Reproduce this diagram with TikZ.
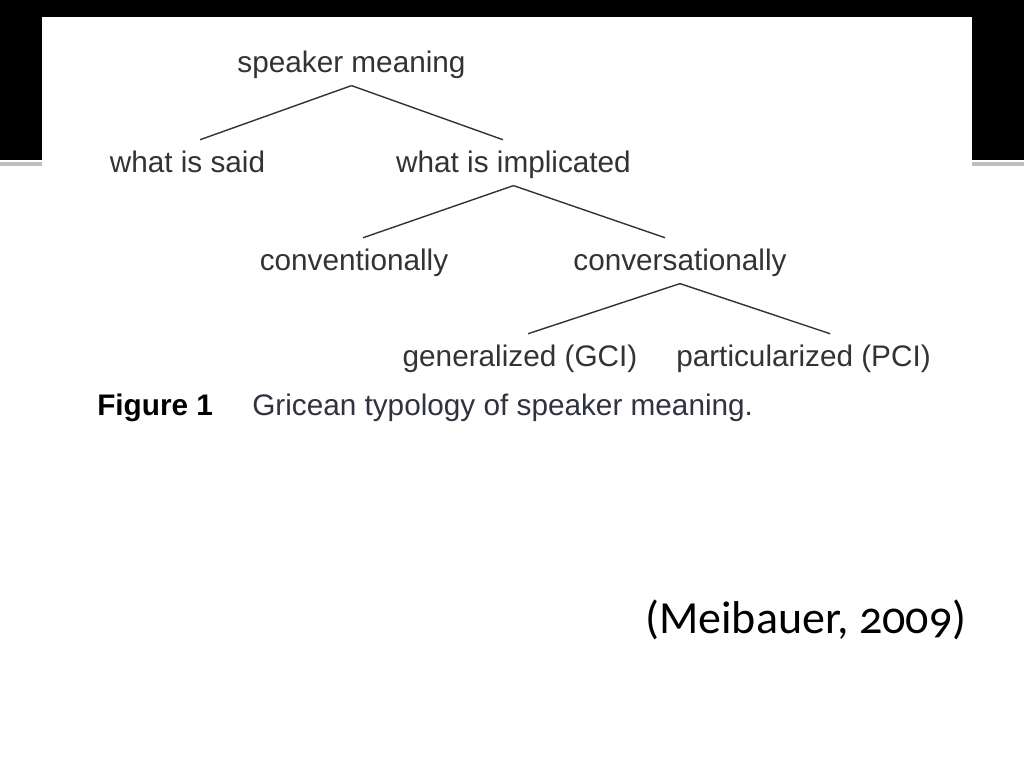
\documentclass[tikz,border=0pt]{standalone}
\usepackage{fontspec}
\setmainfont{Liberation Sans}
\newfontfamily\citefont[Numbers=OldStyle]{Carlito}
\definecolor{inkgray}{HTML}{333333}
\definecolor{captiongray}{HTML}{30323F}
\tikzset{
  term/.style={anchor=base, text=inkgray, font=\fontsize{22.3}{26}\selectfont,
    text height=21pt, text depth=7pt, inner xsep=0pt, inner ysep=3pt},
  branch/.style={draw=inkgray, line width=1.05pt},
  caption/.style={anchor=base west, inner sep=0pt, font=\fontsize{22.3}{26}\selectfont},
}

\begin{document}
\begin{tikzpicture}[x=0.75pt, y=-0.75pt]
\useasboundingbox (0,0) rectangle (1024,768);
\fill[black] (0,0) rectangle (1024,160);
\fill[gray!50] (0,162) rectangle (1024,166);
\fill[white] (42,17) rectangle (972,768);

\node[term] (sm) at (351.5,72) {speaker meaning};
\node[term] (said) at (187.5,172) {what is said};
\node[term] (impl) at (513.5,172) {what is implicated};
\node[term] (conv) at (354,270) {conventionally};
\node[term] (cons) at (680,270) {conversationally};
\node[term] (gci) at (520,366) {generalized (GCI)};
\node[term] (pci) at (803.5,366) {particularized (PCI)};

\node[caption, text=black] (fig) at (97,415) {\bfseries Figure 1};
\node[caption, text=captiongray] (typology) at (252,415) {Gricean typology of speaker meaning.};
\node[anchor=base west, inner sep=0pt, font=\citefont\fontsize{34.5}{40}\selectfont] (cite) at (645,633) {(Meibauer, 2009)};

\path[]
(sm.south) edge[branch] ([xshift=9.4pt]said.north)
(sm.south) edge[branch] ([xshift=-7.9pt]impl.north)
(impl.south) edge[branch] ([xshift=6.8pt]conv.north)
(impl.south) edge[branch] ([xshift=-11.2pt]cons.north)
(cons.south) edge[branch] ([xshift=6pt]gci.north)
(cons.south) edge[branch] ([xshift=20pt]pci.north)
;
\end{tikzpicture}
\end{document}
